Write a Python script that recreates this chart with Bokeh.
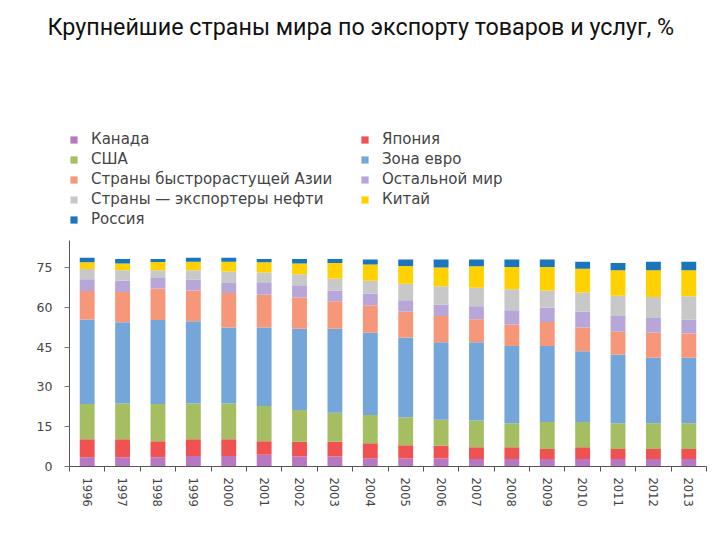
from bokeh.plotting import figure
from bokeh.models import (ColumnDataSource, Range1d, FixedTicker, Legend, LegendItem,
                          LinearAxis)
from bokeh.embed import file_html
from bokeh.resources import INLINE

# ---- data -----------------------------------------------------------------
years = [1996, 1997, 1998, 1999, 2000, 2001, 2002, 2003, 2004,
         2005, 2006, 2007, 2008, 2009, 2010, 2011, 2012, 2013]

canada = [3.5, 3.5, 3.5, 4.0, 4.0, 4.4, 3.8, 3.8, 3.1, 3.0, 3.0, 2.8, 2.8, 2.8, 2.8, 2.8, 2.8, 2.8]
japan  = [6.8, 6.8, 6.0, 6.3, 6.3, 5.1, 5.5, 5.5, 5.7, 5.0, 4.8, 4.5, 4.5, 3.8, 4.5, 3.8, 3.8, 3.8]
usa    = [13.3, 13.5, 14.1, 13.5, 13.5, 13.3, 12.0, 11.0, 10.6, 10.6, 9.8, 10.0, 9.0, 10.2, 9.5, 9.7, 9.7, 9.7]
euro   = [31.8, 30.6, 31.6, 31.0, 28.6, 29.6, 30.6, 31.6, 31.0, 30.0, 29.2, 29.5, 29.1, 28.6, 26.7, 25.9, 24.7, 24.7]
asia   = [10.8, 11.4, 11.9, 11.6, 13.0, 12.4, 11.8, 10.4, 10.4, 9.7, 9.9, 8.7, 8.1, 9.1, 8.9, 8.6, 9.4, 9.1]
rest   = [4.4, 4.2, 4.0, 4.1, 3.8, 4.4, 4.6, 4.1, 4.4, 4.4, 4.4, 4.9, 5.4, 5.4, 5.9, 5.9, 5.6, 5.3]
oil    = [3.9, 4.0, 2.9, 3.5, 4.3, 3.9, 4.2, 4.4, 4.8, 6.2, 6.9, 7.0, 7.9, 6.5, 7.3, 7.7, 7.9, 8.8]
china  = [2.5, 2.5, 3.1, 3.2, 3.7, 3.9, 4.0, 5.9, 6.2, 6.7, 7.0, 8.1, 8.4, 8.8, 9.0, 9.6, 10.1, 9.8]
russia = [1.7, 1.7, 1.1, 1.5, 1.5, 1.2, 1.7, 1.5, 1.8, 2.4, 3.0, 2.5, 2.8, 2.8, 2.6, 2.7, 3.2, 3.2]

# stacking order (bottom -> top)
keys   = ["canada", "japan", "usa", "euro", "asia", "rest", "oil", "china", "russia"]
labels = ["Канада", "Япония", "США", "Зона евро", "Страны быстрорастущей Азии",
          "Остальной мир", "Страны — экспортеры нефти", "Китай", "Россия"]
colors = ["#b777c2", "#f05252", "#a5be62", "#74a6da", "#f7977a",
          "#b8a6d9", "#c8c8c8", "#ffd100", "#1a75bc"]
y_ticks = [0, 15, 30, 45, 60, 75]

title_text = "Крупнейшие страны мира по экспорту товаров и услуг, %"

# ---- figure ---------------------------------------------------------------
source = ColumnDataSource(dict(year=years, canada=canada, japan=japan, usa=usa,
                               euro=euro, asia=asia, rest=rest, oil=oil,
                               china=china, russia=russia))

p = figure(width=712, height=532, output_backend="svg", toolbar_location=None,
           x_range=Range1d(years[0] - 0.5, years[-1] + 0.5),
           y_range=Range1d(0, 157.6),
           min_border_left=69, min_border_right=6, min_border_top=48,
           min_border_bottom=66, x_axis_type=None, y_axis_type=None)
p.outline_line_color = None
p.background_fill_color = "white"
p.border_fill_color = "white"

p.title.text = title_text
p.title.align = "left"
p.title.offset = -22
p.title.standoff = 16
p.title.vertical_align = "bottom"
p.title.text_font = "Roboto"
p.title.text_font_size = "23.3px"
p.title.text_font_style = "normal"
p.title.text_color = "#111111"

renderers = p.vbar_stack(keys, x="year", width=0.42, source=source,
                         fill_color=colors, line_color=None)

# axes
xaxis = LinearAxis(ticker=FixedTicker(ticks=years,
                                      minor_ticks=[years[0] - 0.5 + i for i in range(len(years) + 1)]))
xaxis.major_label_orientation = "vertical"
xaxis.major_tick_out = 0
xaxis.major_tick_in = 0
xaxis.minor_tick_out = 5
xaxis.minor_tick_in = 0
xaxis.minor_tick_line_color = "#555555"
xaxis.major_label_standoff = 6
xaxis.major_label_text_font = "DejaVu Sans"
xaxis.major_label_text_font_size = "11.5px"
xaxis.major_label_text_color = "#444444"
xaxis.axis_line_color = "#555555"
xaxis.major_label_overrides = {y: str(y) for y in years}
p.add_layout(xaxis, "below")

yaxis = LinearAxis(ticker=FixedTicker(ticks=y_ticks, minor_ticks=[]), bounds=(0, 85.2))
yaxis.major_tick_out = 5
yaxis.major_tick_in = 0
yaxis.major_tick_line_color = "#777777"
yaxis.minor_tick_out = 0
yaxis.major_label_standoff = 12
yaxis.major_label_text_font = "DejaVu Sans"
yaxis.major_label_text_font_size = "12.5px"
yaxis.major_label_text_color = "#444444"
yaxis.axis_line_color = "#555555"
p.add_layout(yaxis, "left")

p.xgrid.visible = False
p.ygrid.ticker = yaxis.ticker
p.ygrid.grid_line_color = "#bdbdbd"
p.ygrid.grid_line_dash = "5 4"
p.ygrid.grid_line_width = 1

# legend (two columns, column-major)
order = [0, 2, 4, 6, 8, 1, 3, 5, 7]
items = [LegendItem(label=labels[i], renderers=[renderers[i]]) for i in order]
legend = Legend(items=items, orientation="vertical", ncols=2,
                location=(0, 237), margin=0, padding=0, spacing=0,
                glyph_width=9, glyph_height=9, label_standoff=13,
                label_width=269, label_height=20,
                label_text_font="DejaVu Sans", label_text_font_size="15px",
                label_text_color="#444444",
                border_line_color=None, background_fill_alpha=0)
p.add_layout(legend, "center")

open("out.html", "w").write(file_html(p, INLINE))
